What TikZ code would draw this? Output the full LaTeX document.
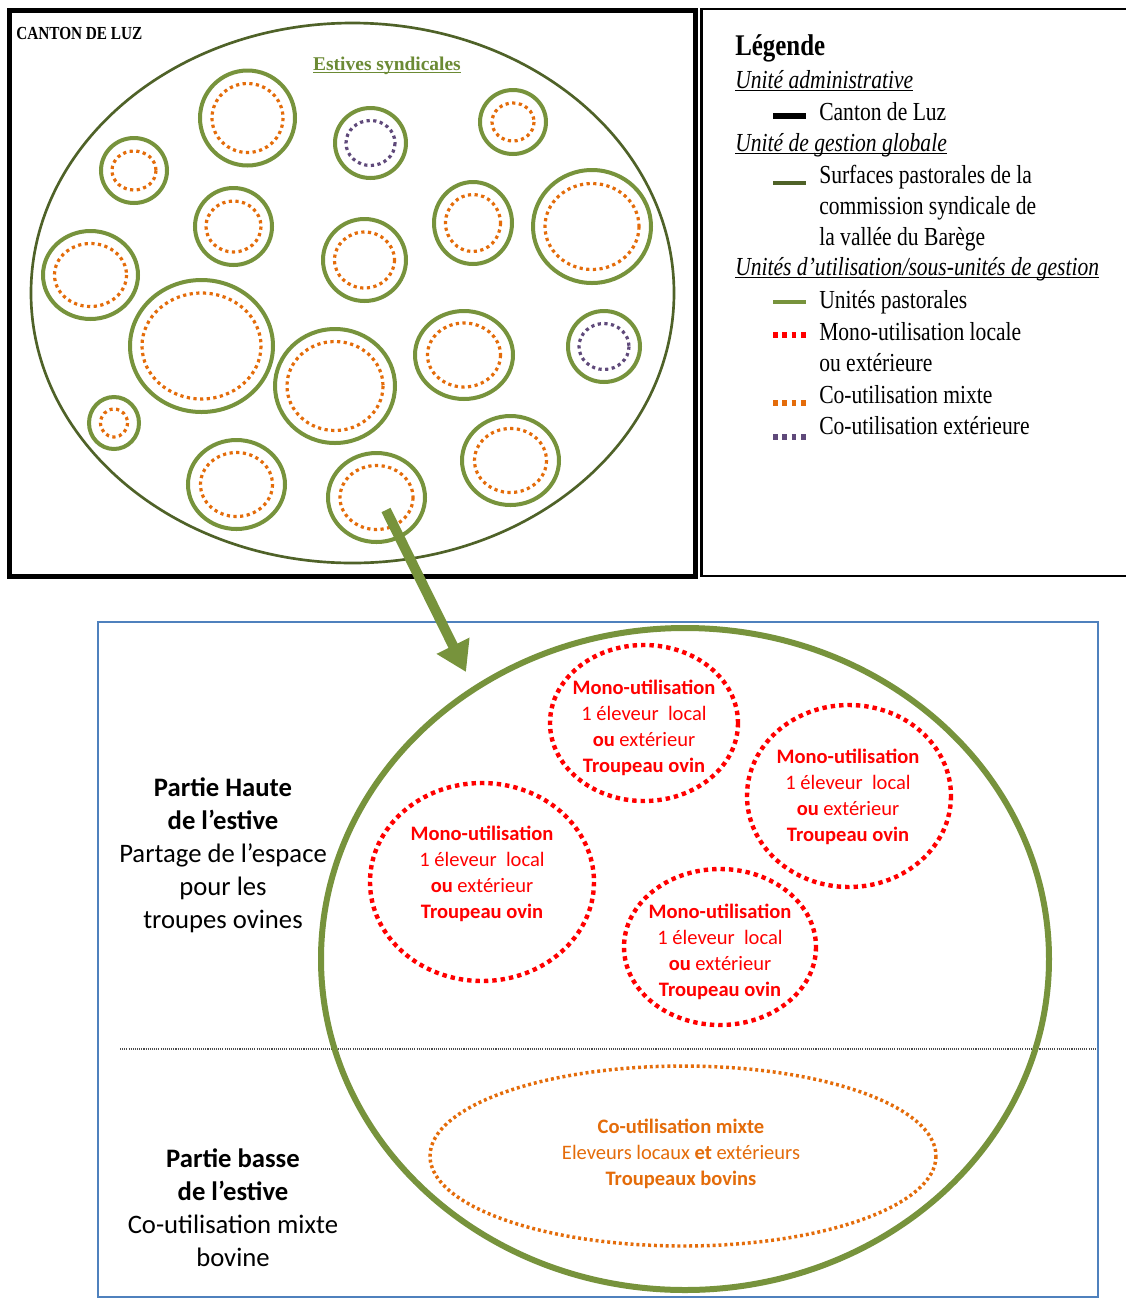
\documentclass[tikz,border=0pt]{standalone}
\usepackage{fontspec}
\setmainfont{Carlito}
\newfontfamily\legf[FakeStretch=0.83]{Liberation Serif}
\newfontfamily\serf{Liberation Serif}
\usetikzlibrary{arrows.meta}
\definecolor{dkgreen}{HTML}{4F6228}
\definecolor{pgreen}{HTML}{77933C}
\definecolor{orng}{HTML}{E46C0A}
\definecolor{purp}{HTML}{5F497A}
\definecolor{blu}{HTML}{4F81BD}
\definecolor{olivetxt}{HTML}{6B8A34}
\newcommand\ulword[1]{\setbox0\hbox{#1}\rlap{\rule[-2.2pt]{\wd0}{0.9pt}}\box0}
\tikzset{
  outer/.style={draw=pgreen, line width=3pt},
  innerdots/.style={line width=2.4pt, dash pattern=on 2.4pt off 2.6pt},
  reddot/.style={draw=red, line width=3.3pt, dash pattern=on 3.3pt off 3pt},
  orangedot/.style={draw=orng, line width=2.6pt, dash pattern=on 2.2pt off 2.2pt},
  redtxt/.style={text=red, align=center, font=\fontsize{15.4}{19.5}\selectfont},
  orgtxt/.style={text=orng, align=center, font=\fontsize{15.4}{19.5}\selectfont},
  sidetxt/.style={align=center, font=\fontsize{20}{24.75}\selectfont},
  legtxt/.style={anchor=base west, inner sep=0pt, font=\fontsize{19.5}{23.5}\legf},
  leghead/.style={anchor=base west, inner sep=0pt, font=\fontsize{19.5}{23.5}\legf\itshape},
}
\begin{document}
\begin{tikzpicture}[x=0.75pt, y=-0.75pt]
\useasboundingbox (0,0) rectangle (1126,1304);
\fill[white] (0,0) rectangle (1126,1304);

% ---- top-left panel ----
\draw[line width=3.75pt] (9,10.5) rectangle (695,576);
\draw[dkgreen, line width=2pt] (352.5,293) ellipse [x radius=321.5, y radius=270];
\node[anchor=base west, inner sep=0pt, font=\fontsize{13.8}{16}\legf\bfseries] (canton) at (16,39) {CANTON DE LUZ};
\node[anchor=base, inner sep=0pt, text=olivetxt, font=\fontsize{14.6}{17}\serf\bfseries] (estives) at (387,70) {\ulword{Estives syndicales}};

\foreach \cx/\cy/\rx/\ry/\ix/\iy/\cc in {
  247.5/118/47.5/47.5/35.5/34.5/orng,
  370.5/143/35.5/35/24.5/22.5/purp,
  513/122/33/32/21/19/orng,
  134/170.5/33/32.5/22/19.5/orng,
  233.5/226.5/38.5/38.5/27.5/25.5/orng,
  473/223/39/41/27.5/28.5/orng,
  592/226.5/59/56.5/47/43/orng,
  364.5/260/41.5/41/30/28/orng,
  90.5/275/47.5/44/36/31.5/orng,
  201.5/346/71.5/66/59.5/53/orng,
  335/386/60/57/48/44.5/orng,
  464/355/49/44/36.5/32/orng,
  604/346.5/36/35.5/25/23/purp,
  114/423/25/26/13.5/14/orng,
  236.5/484.5/48.5/44.5/36/32/orng,
  376.5/497.5/48.5/44.5/36.5/32/orng,
  510.5/460.5/48.5/44.5/36/32/orng}
{
  \draw[outer] (\cx,\cy) ellipse [x radius=\rx, y radius=\ry];
  \draw[innerdots, draw=\cc] (\cx,\cy) ellipse [x radius=\ix, y radius=\iy];
}

% ---- legend ----
\draw[line width=1.6pt] (701.5,9) rectangle (1132,576);
\node[anchor=base west, inner sep=0pt, font=\fontsize{22.5}{26}\legf\bfseries] (leg) at (735,55) {Légende};
\node[leghead] (h1) at (735,88) {\ulword{Unité administrative}};
\draw[line width=4pt, black] (773,116) -- (806,116);
\node[legtxt] (l1) at (819,120) {Canton de Luz};
\node[leghead] (h2) at (735,151) {\ulword{Unité de gestion globale}};
\draw[line width=3pt, dkgreen] (773,183) -- (806,183);
\node[legtxt] (l2a) at (819,183) {Surfaces pastorales de la};
\node[legtxt] (l2b) at (819,214) {commission syndicale de};
\node[legtxt] (l2c) at (819,245) {la vallée du Barège};
\node[leghead] (h3) at (735,275) {\ulword{Unités d’utilisation/sous-unités de gestion}};
\draw[line width=3pt, pgreen] (773,302) -- (806,302);
\node[legtxt] (l3) at (819,308) {Unités pastorales};
\draw[line width=3.8pt, red, dash pattern=on 3.6pt off 3.4pt] (773,335) -- (806,335);
\node[legtxt] (l4a) at (819,340) {Mono-utilisation locale};
\node[legtxt] (l4b) at (819,371) {ou extérieure};
\draw[line width=3.8pt, orng, dash pattern=on 3.6pt off 3.4pt] (773,403) -- (806,403);
\node[legtxt] (l5) at (819,403) {Co-utilisation mixte};
\draw[line width=3.8pt, purp, dash pattern=on 3.6pt off 3.4pt] (773,437) -- (806,437);
\node[legtxt] (l6) at (819,434) {Co-utilisation extérieure};

% ---- bottom panel ----
\draw[blu, line width=1.5pt] (98,622) rectangle (1098,1297);
\draw[line width=0.8pt, draw=black!70, dash pattern=on 0.8pt off 0.8pt] (120,1049) -- (1096,1049);
\draw[pgreen, line width=4.5pt] (685,959) ellipse [x radius=364, y radius=331];

\draw[reddot] (644,723) ellipse [x radius=94, y radius=78];
\draw[reddot] (849,796) ellipse [x radius=102, y radius=91];
\draw[reddot] (482,882) ellipse [x radius=112, y radius=99];
\draw[reddot] (720,947) ellipse [x radius=96, y radius=78];
\draw[orangedot] (683,1156) ellipse [x radius=253, y radius=90];

\node[redtxt] (m1) at (644,728) {\textbf{Mono-utilisation}\\1 éleveur\ \ local\\\textbf{ou} extérieur\\\textbf{Troupeau ovin}};
\node[redtxt] (m2) at (848,797) {\textbf{Mono-utilisation}\\1 éleveur\ \ local\\\textbf{ou} extérieur\\\textbf{Troupeau ovin}};
\node[redtxt] (m3) at (482,874) {\textbf{Mono-utilisation}\\1 éleveur\ \ local\\\textbf{ou} extérieur\\\textbf{Troupeau ovin}};
\node[redtxt] (m4) at (720,952) {\textbf{Mono-utilisation}\\1 éleveur\ \ local\\\textbf{ou} extérieur\\\textbf{Troupeau ovin}};
\node[orgtxt] (co) at (681,1154) {\textbf{Co-utilisation mixte}\\Eleveurs locaux \textbf{et} extérieurs\\\textbf{Troupeaux bovins}};

\node[sidetxt] (haute) at (223,855) {\textbf{Partie Haute}\\\textbf{de l’estive}\\Partage de l’espace\\pour les\\troupes ovines};
\node[sidetxt] (basse) at (233,1208) {\textbf{Partie basse}\\\textbf{de l’estive}\\Co-utilisation mixte\\bovine};

% ---- arrow ----
\coordinate (arrS) at (386,510);
\coordinate (arrE) at (466,672);
\draw[pgreen, line width=7.5pt, -{Triangle[length=22pt, width=26pt]}] (arrS) -- (arrE);
\end{tikzpicture}
\end{document}
